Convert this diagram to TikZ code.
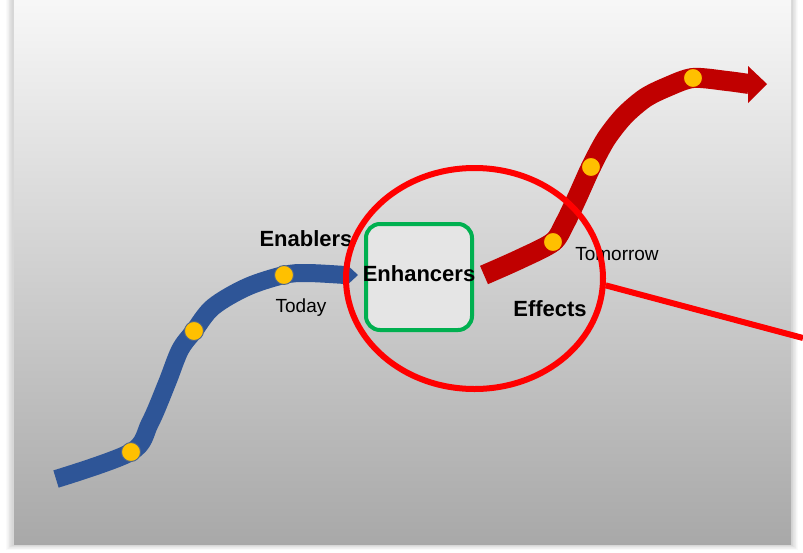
\documentclass[tikz,border=0pt]{standalone}
\usepackage{fontspec}
\setmainfont{Liberation Sans}
\usetikzlibrary{arrows.meta,shapes.geometric}
\definecolor{pathblue}{HTML}{2E5597}
\definecolor{pathred}{HTML}{C00000}
\definecolor{dotyellow}{HTML}{FFC000}
\definecolor{boxgreen}{HTML}{00B050}
\definecolor{lensred}{HTML}{FF0000}
\tikzset{
  bluepath/.style={draw=pathblue, line width=18pt, line join=round},
  redpath/.style={draw=pathred, line width=20pt, line join=round},
  bluehead/.style={fill=pathblue},
  redhead/.style={fill=pathred},
  bluedot/.style={circle, fill=dotyellow, draw=pathblue!60!gray, line width=0.9pt,
    minimum size=19pt, inner sep=0pt},
  reddot/.style={circle, fill=dotyellow, draw=pathred, line width=0.9pt,
    minimum size=19pt, inner sep=0pt},
  boldlabel/.style={font=\bfseries\fontsize{22}{26}\selectfont, inner sep=0pt},
  plainlabel/.style={font=\fontsize{19}{23}\selectfont, inner sep=0pt},
}
\begin{document}
\begin{tikzpicture}[x=1pt,y=-1pt]
\useasboundingbox (0,0) rectangle (803,552);
\fill[white] (0,0) rectangle (803,552);
% soft shadow around the panel
\foreach \d in {1,...,8}{
  \fill[black, opacity=0.02] (13-\d*0.9,0) rectangle (792+\d*0.7,545+\d*0.6);
}
\shade[top color=white!97!black, bottom color=white!66!black] (14,0) rectangle (791,544);

% blue path (today)
\draw[bluepath] plot[smooth, tension=0.55] coordinates {
  (56,479) (131,452) (150,423) (167,383) (180,350) (194,331) (213,307)
  (247,287) (284,275) (307,273) (345,275)};
\fill[bluehead] (344,262) -- (358,275) -- (344,288) -- cycle;
\node[bluedot] (b1) at (131,452) {};
\node[bluedot] (b2) at (194,331) {};
\node[bluedot] (b3) at (284,275) {};

% red path (tomorrow)
\draw[redpath] plot[smooth, tension=0.5] coordinates {
  (484,275) (520,259) (553,242) (565,223) (577,198) (591,167) (606,139)
  (624,116) (645,98) (667,87) (693,78) (727,81) (749,84)};
\fill[redhead] (748,66) -- (767,84) -- (748,103) -- cycle;
\node[reddot] (r1) at (553,242) {};
\node[reddot] (r2) at (591,167) {};
\node[reddot] (r3) at (693,78) {};

% enhancer box
\node[draw=boxgreen, line width=4pt, fill=white!90!black, rounded corners=14pt,
  minimum width=106pt, minimum height=106pt] (box) at (419,277) {};

% labels
\node[boldlabel] (enablers) at (306,239) {Enablers};
\node[boldlabel] (enhancers) at (419,274) {Enhancers};
\node[boldlabel] (effects) at (550,309) {Effects};
\node[plainlabel] (today) at (301,308) {Today};
\node[plainlabel] (tomorrow) at (617,254) {Tomorrow};

% magnifier lens
\node[ellipse, draw=lensred, line width=6pt, minimum width=257pt, minimum height=221pt,
  inner sep=0pt] (lens) at (474.5,278.5) {};
\coordinate (lensout) at (803,338);
\draw[lensred, line width=6pt] (lens.-3) -- (lensout);
\end{tikzpicture}
\end{document}
